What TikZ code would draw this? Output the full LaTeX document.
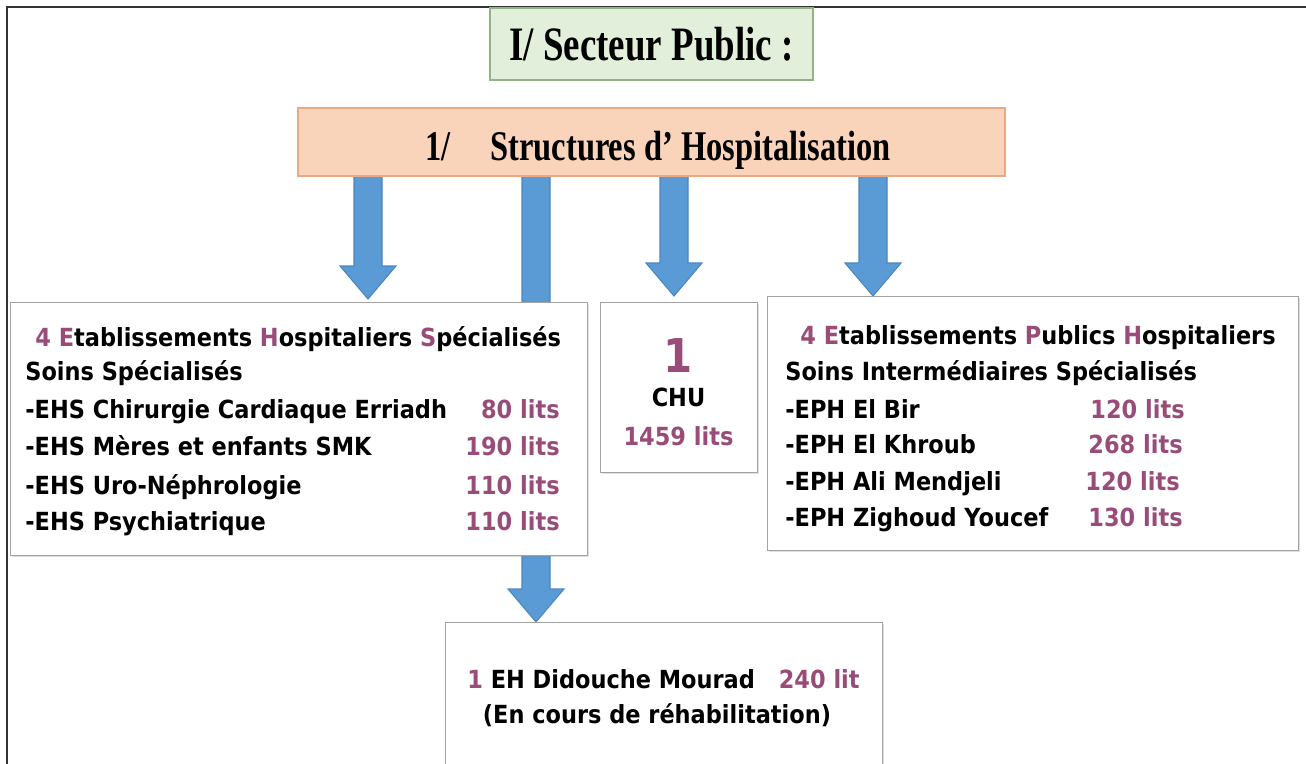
\documentclass[tikz,border=0pt]{standalone}
\usepackage{fontspec}
\usepackage{graphicx}
\usetikzlibrary{calc,shadows}
\newfontfamily\tah{DejaVu Sans}[FakeStretch=0.9]
\newfontfamily\tnr{Liberation Serif}
\definecolor{mauve}{HTML}{9A4C78}
\definecolor{arrfill}{HTML}{5B9BD5}
\definecolor{arrline}{HTML}{4A86C0}
\definecolor{titlefill}{HTML}{E2EFDA}
\definecolor{titleline}{HTML}{93B384}
\definecolor{hdrfill}{HTML}{F9D3BA}
\definecolor{hdrline}{HTML}{EBA884}
\definecolor{boxline}{HTML}{A3A3A3}
\definecolor{frameline}{HTML}{333333}
\newcommand\blkarrow[2]{\filldraw[blkarr] ($(#1)+(-14,0)$) -- ($(#1)+(14,0)$) -- ($(#2)+(14,-33)$) -- ($(#2)+(28,-33)$) -- (#2) -- ($(#2)+(-28,-33)$) -- ($(#2)+(-14,-33)$) -- cycle;}
\begin{document}
\begin{tikzpicture}[x=0.02cm,y=-0.02cm,
  blkarr/.style={fill=arrfill,draw=arrline,line width=0.6pt,line join=miter},
  panel/.style={draw=boxline,fill=white,line width=0.7pt,inner sep=0pt,anchor=north west,
    drop shadow={shadow xshift=0.035cm,shadow yshift=-0.035cm,opacity=0.25}},
  txt/.style={font=\tah\bfseries\fontsize{14.2}{17}\selectfont,inner sep=0pt},
  bigtxt/.style={font=\tah\bfseries\fontsize{26.5}{30}\selectfont,inner sep=0pt},
  ttl/.style={font=\tnr\bfseries\fontsize{21}{24}\selectfont,inner sep=0pt},
  hdr/.style={font=\tnr\bfseries\fontsize{18.5}{22}\selectfont,inner sep=0pt}
]
\useasboundingbox[fill=white] (0,0) rectangle (1306,764);
% outer frame
\draw[frameline,line width=1.1pt] (7,764) -- (7,7) -- (1306,7);

% title
\node[draw=titleline,fill=titlefill,line width=0.8pt,minimum width=6.46cm,minimum height=1.44cm,inner sep=0pt,font=\tnr\bfseries\fontsize{21}{24}\selectfont] (T) at (651.5,44) {\scalebox{1}[1.3]{I/ Secteur Public :}};

% arrow anchor points
\coordinate (a1s) at (368,170);
\coordinate (a1e) at (368,299);
\coordinate (a2s) at (536,170);
\coordinate (a2e) at (536,622);
\coordinate (a3s) at (674,170);
\coordinate (a3e) at (674,296);
\coordinate (a4s) at (873,170);
\coordinate (a4e) at (873,296);
\blkarrow{a1s}{a1e}
\blkarrow{a2s}{a2e}
\blkarrow{a3s}{a3e}
\blkarrow{a4s}{a4e}

% header
\node[draw=hdrline,fill=hdrfill,line width=0.8pt,minimum width=14.14cm,minimum height=1.36cm,inner sep=0pt,
  drop shadow={shadow xshift=0.03cm,shadow yshift=-0.03cm,opacity=0.2}] (H) at (651.5,142) {};
\node[hdr,anchor=base west] (H1) at (425,160) {\scalebox{1}[1.3]{1/}};
\node[hdr,anchor=base west] (H2) at (490,160) {\scalebox{1}[1.3]{Structures d’ Hospitalisation}};

% boxes
\node[panel,minimum width=11.54cm,minimum height=5.06cm] (L) at (10,302) {};
\node[panel,minimum width=3.14cm,minimum height=3.40cm] (C) at (600,302) {};
\node[panel,minimum width=10.62cm,minimum height=5.08cm] (R) at (767,296) {};
\node[panel,minimum width=8.74cm,minimum height=3.2cm] (B) at (445,622) {};

% left box text
\node[txt,anchor=base west] (l1) at (35,346) {\textcolor{mauve}{4 E}tablissements \textcolor{mauve}{H}ospitaliers \textcolor{mauve}{S}pécialisés};
\node[txt,anchor=base west] (l2) at (25,380) {Soins Spécialisés};
\node[txt,anchor=base west] (l3) at (25,418) {-EHS Chirurgie Cardiaque Erriadh};
\node[txt,anchor=base west] (l4) at (25,455) {-EHS Mères et enfants SMK};
\node[txt,anchor=base west] (l5) at (25,494) {-EHS Uro-Néphrologie};
\node[txt,anchor=base west] (l6) at (25,530) {-EHS Psychiatrique};
\node[txt,anchor=base east,text=mauve] (n3) at (560,418) {80 lits};
\node[txt,anchor=base east,text=mauve] (n4) at (560,455) {190 lits};
\node[txt,anchor=base east,text=mauve] (n5) at (560,494) {110 lits};
\node[txt,anchor=base east,text=mauve] (n6) at (560,530) {110 lits};

% CHU box text
\node[bigtxt,anchor=base,text=mauve] (c1) at (678.5,372) {1};
\node[txt,anchor=base] (c2) at (678.5,406) {CHU};
\node[txt,anchor=base,text=mauve] (c3) at (678.5,445) {1459 lits};

% right box text
\node[txt,anchor=base west] (r1) at (800,344) {\textcolor{mauve}{4 E}tablissements \textcolor{mauve}{P}ublics \textcolor{mauve}{H}ospitaliers};
\node[txt,anchor=base west] (r2) at (785,380) {Soins Intermédiaires Spécialisés};
\node[txt,anchor=base west] (r3) at (785,418) {-EPH El Bir};
\node[txt,anchor=base west] (r4) at (785,453) {-EPH El Khroub};
\node[txt,anchor=base west] (r5) at (785,490) {-EPH Ali Mendjeli};
\node[txt,anchor=base west] (r6) at (785,526) {-EPH Zighoud Youcef};
\node[txt,anchor=base east,text=mauve] (m3) at (1185,418) {120 lits};
\node[txt,anchor=base east,text=mauve] (m4) at (1183,453) {268 lits};
\node[txt,anchor=base east,text=mauve] (m5) at (1180,490) {120 lits};
\node[txt,anchor=base east,text=mauve] (m6) at (1183,526) {130 lits};

% bottom box text
\node[txt,anchor=base west] (b1) at (467,688) {\textcolor{mauve}{1} EH Didouche Mourad};
\node[txt,anchor=base east,text=mauve] (b2) at (860,688) {240 lit};
\node[txt,anchor=base] (b3) at (657,723) {(En cours de réhabilitation)};
\end{tikzpicture}
\end{document}
